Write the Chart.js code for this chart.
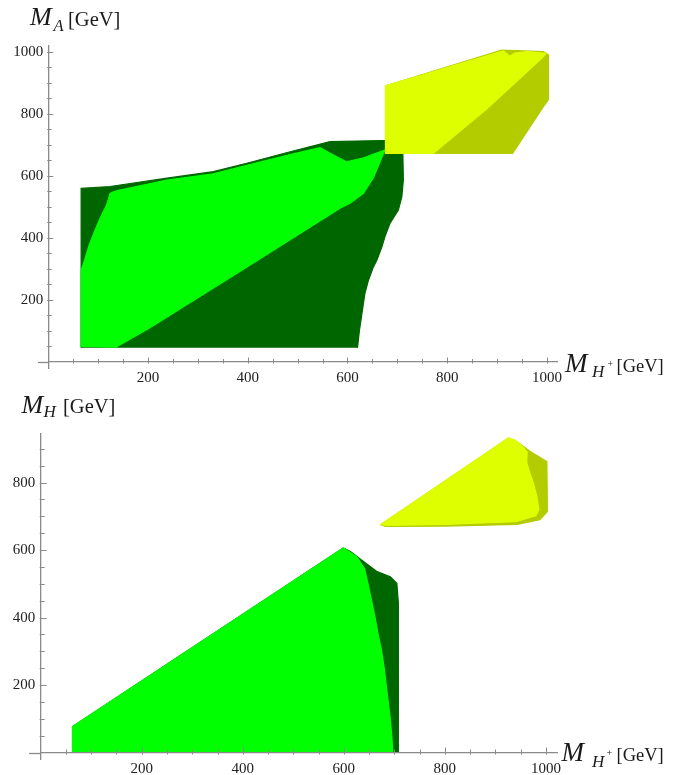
<!DOCTYPE html>
<html>
<head>
<meta charset="utf-8">
<script src="https://cdn.jsdelivr.net/npm/chart.js@4/dist/chart.umd.min.js"></script>
<style>
  html, body { margin: 0; padding: 0; background: #fff; }
  body { width: 678px; height: 775px; position: relative; overflow: hidden; }
  canvas { position: absolute; left: 0; }
  .t { position: absolute; line-height: 1; font-family: 'Liberation Serif', 'Times New Roman', serif; color: #1a1a1a; white-space: nowrap; }
  .i { font-style: italic; }
</style>
</head>
<body>
<canvas id="c1" width="678" height="388" style="top:0px"></canvas>
<canvas id="c2" width="678" height="387" style="top:388px"></canvas>

<!-- top panel titles -->
<div class="t i" style="left:30px;top:4.2px;font-size:26px">M</div>
<div class="t i" style="left:53.5px;top:17.6px;font-size:16.5px">A</div>
<div class="t" style="left:68px;top:8.8px;font-size:20.5px">[GeV]</div>

<div class="t i" style="left:565px;top:349.7px;font-size:27px">M</div>
<div class="t i" style="left:592px;top:362.5px;font-size:17px">H</div>
<div class="t" style="left:607.5px;top:358.6px;font-size:10px">+</div>
<div class="t" style="left:616.5px;top:356.5px;font-size:18.5px">[GeV]</div>

<!-- bottom panel titles -->
<div class="t i" style="left:21.5px;top:391.5px;font-size:26px">M</div>
<div class="t i" style="left:43.5px;top:403.1px;font-size:17px">H</div>
<div class="t" style="left:63px;top:395.8px;font-size:20.5px">[GeV]</div>

<div class="t i" style="left:561.5px;top:739.1px;font-size:27px">M</div>
<div class="t i" style="left:592px;top:752.5px;font-size:17px">H</div>
<div class="t" style="left:606.5px;top:747.6px;font-size:10px">+</div>
<div class="t" style="left:616.5px;top:746.2px;font-size:18.5px">[GeV]</div>

<script>
// ---------------- DATA (GeV) ----------------
// Tick values
const xMajorTicks = [200, 400, 600, 800, 1000];
const xMinorTicks = [50, 100, 150, 250, 300, 350, 450, 500, 550, 650, 700, 750, 850, 900, 950];
const yMajorTicksTop = [200, 400, 600, 800, 1000];
const yMinorTicksTop = [50, 100, 150, 250, 300, 350, 450, 500, 550, 650, 700, 750, 850, 900, 950];
const yMajorTicksBottom = [200, 400, 600, 800];
const yMinorTicksBottom = [50, 100, 150, 250, 300, 350, 450, 500, 550, 650, 700, 750, 850, 900];

// Top panel: allowed region boundaries in (M_H+, M_A)
const topDarkGreen = [[66,45],[66,559],[124,565],[238,592],[331,613],[398,640],[485,677],[565,710],[672,713],[700,712],[711,690],[711,672],[712,586],[709,532],[702,489],[685,446],[675,403],[669,371],[659,328],[652,306],[642,263],[635,221],[629,156],[624,102],[620,45]];
const topBrightGreen = [[66,48],[66,295],[74,333],[82,376],[94,425],[104,463],[117,505],[124,543],[131,548],[141,553],[238,586],[331,606],[398,633],[485,668],[545,690],[565,672],[598,645],[631,657],[675,683],[652,593],[632,543],[605,511],[585,495],[405,312],[204,110],[134,45]];
const topOlive = [[675,672],[931,672],[993,823],[1003,845],[1003,989],[993,1000],[909,1005],[675,889]];
const topYellow = [[675,672],[772,672],[879,815],[993,984],[998,995],[960,1000],[935,995],[925,985],[912,1002],[675,889]];

// Bottom panel: allowed region boundaries in (M_H+, M_H)
const botDarkGreen = [[63,2],[63,77],[599,606],[613,596],[639,566],[666,536],[692,521],[705,502],[708,443],[708,2]];
const botBrightGreen = [[63,2],[63,77],[599,606],[626,580],[641,545],[648,500],[655,450],[662,400],[668,350],[675,300],[680,250],[684,200],[688,150],[692,100],[695,50],[697,2]];
const botOlive = [[672,674],[926,932],[946,917],[969,892],[1002,862],[1003,714],[988,690],[943,676],[800,671],[680,670]];
const botYellow = [[672,674],[926,932],[940,925],[955,905],[963,890],[962,860],[968,830],[975,800],[982,760],[986,720],[980,702],[940,684],[800,676],[680,673]];

// ---------------- STYLE ----------------
const DARK = '#006600', BRIGHT = '#00ff00', YELLOW = '#ddff00', OLIVE = '#b3cc00';
const AXIS = '#8a8a8a';
const SERIF = "'Liberation Serif', 'Times New Roman', serif";

function poly(pts, color, order) {
  return {
    data: pts.map(p => ({x: p[0], y: p[1]})),
    showLine: true, fill: 'shape', tension: 0,
    backgroundColor: color, borderColor: color, borderWidth: 1.2,
    pointRadius: 0, pointHoverRadius: 0, order: order
  };
}

// Mathematica-style inward tick marks + axis extension left of origin
const tickMarks = {
  id: 'tickMarks',
  afterDraw(chart, args, o) {
    const {ctx, scales: {x, y}} = chart;
    const x0 = x.getPixelForValue(0), y0 = Math.round(y.getPixelForValue(0)) + 0.5;
    ctx.save();
    ctx.strokeStyle = AXIS; ctx.lineWidth = 1.3;
    ctx.beginPath();
    ctx.moveTo(x.getPixelForValue(0) - (x.getPixelForValue(o.ext) - x0), y0);
    ctx.lineTo(x0, y0);
    ctx.stroke();
    ctx.lineWidth = 1;
    ctx.beginPath();
    const add = (vals, len, isX) => vals.forEach(v => {
      if (isX) { const p = Math.round(x.getPixelForValue(v)) + 0.5; ctx.moveTo(p, y0 + 1); ctx.lineTo(p, y0 - len); }
      else { const p = Math.round(y.getPixelForValue(v)) + 0.5; ctx.moveTo(x0 - 1, p); ctx.lineTo(x0 + len, p); }
    });
    add(o.xMajor, o.major, true); add(o.xMinor, o.minor, true);
    add(o.yMajor, o.major, false); add(o.yMinor, o.minor, false);
    ctx.stroke();
    ctx.restore();
  }
};

function makeChart(id, datasets, cfg) {
  const xTicks = xMajorTicks.concat(xMinorTicks).sort((a, b) => a - b);
  const yTicks = cfg.yMajor.concat(cfg.yMinor).sort((a, b) => a - b);
  return new Chart(document.getElementById(id), {
    type: 'scatter',
    data: { datasets },
    options: {
      responsive: false, animation: false, events: [],
      layout: { padding: cfg.padding },
      plugins: {
        legend: { display: false }, tooltip: { enabled: false },
        tickMarks: { xMajor: xMajorTicks, xMinor: xMinorTicks, yMajor: cfg.yMajor, yMinor: cfg.yMinor, major: cfg.majorLen, minor: cfg.minorLen, ext: cfg.xExt }
      },
      scales: {
        x: {
          type: 'linear', min: 0, max: cfg.xMax, position: { y: 0 },
          grid: { display: false, drawTicks: false },
          border: { display: true, color: AXIS, width: 1.3 },
          afterBuildTicks: s => { s.ticks = xTicks.map(v => ({ value: v })); },
          afterFit: s => { s.paddingLeft = s.paddingRight = s.paddingTop = s.paddingBottom = 0; },
          ticks: {
            autoSkip: false, maxRotation: 0, padding: cfg.xPad, color: '#222',
            font: { family: SERIF, size: 15 },
            callback: v => xMajorTicks.includes(v) ? String(v) : ''
          }
        },
        y: {
          type: 'linear', min: cfg.yMin, max: cfg.yMax, position: 'left',
          grid: { display: false, drawTicks: false },
          border: { display: true, color: AXIS, width: 1.3 },
          afterBuildTicks: s => { s.ticks = yTicks.map(v => ({ value: v })); },
          afterFit: s => { s.width = cfg.axisLeft; s.paddingLeft = s.paddingRight = s.paddingTop = s.paddingBottom = 0; },
          ticks: {
            autoSkip: false, padding: cfg.yPad, color: '#222',
            font: { family: SERIF, size: 15 },
            callback: v => cfg.yMajor.includes(v) ? String(v) : ''
          }
        }
      }
    },
    plugins: [tickMarks]
  });
}

makeChart('c1', [
  poly(topDarkGreen, DARK, 4),
  poly(topBrightGreen, BRIGHT, 3),
  poly(topOlive, OLIVE, 2),
  poly(topYellow, YELLOW, 1)
], {
  padding: { left: 0, right: 121, top: 45.7, bottom: 19.7 },
  axisLeft: 48.2, xExt: 20.5,
  xMax: 1020, yMin: -21, yMax: 1019,
  yMajor: yMajorTicksTop, yMinor: yMinorTicksTop,
  majorLen: 5, minorLen: 3.5, xPad: 7, yPad: 5
});

makeChart('c2', [
  poly(botDarkGreen, DARK, 4),
  poly(botBrightGreen, BRIGHT, 3),
  poly(botOlive, OLIVE, 2),
  poly(botYellow, YELLOW, 1)
], {
  padding: { left: 0, right: 121, top: 45.3, bottom: 16 },
  axisLeft: 40.7, xExt: 23,
  xMax: 1022, yMin: -19, yMax: 946,
  yMajor: yMajorTicksBottom, yMinor: yMinorTicksBottom,
  majorLen: 6, minorLen: 4, xPad: 7, yPad: 5.5
});
</script>
</body>
</html>
